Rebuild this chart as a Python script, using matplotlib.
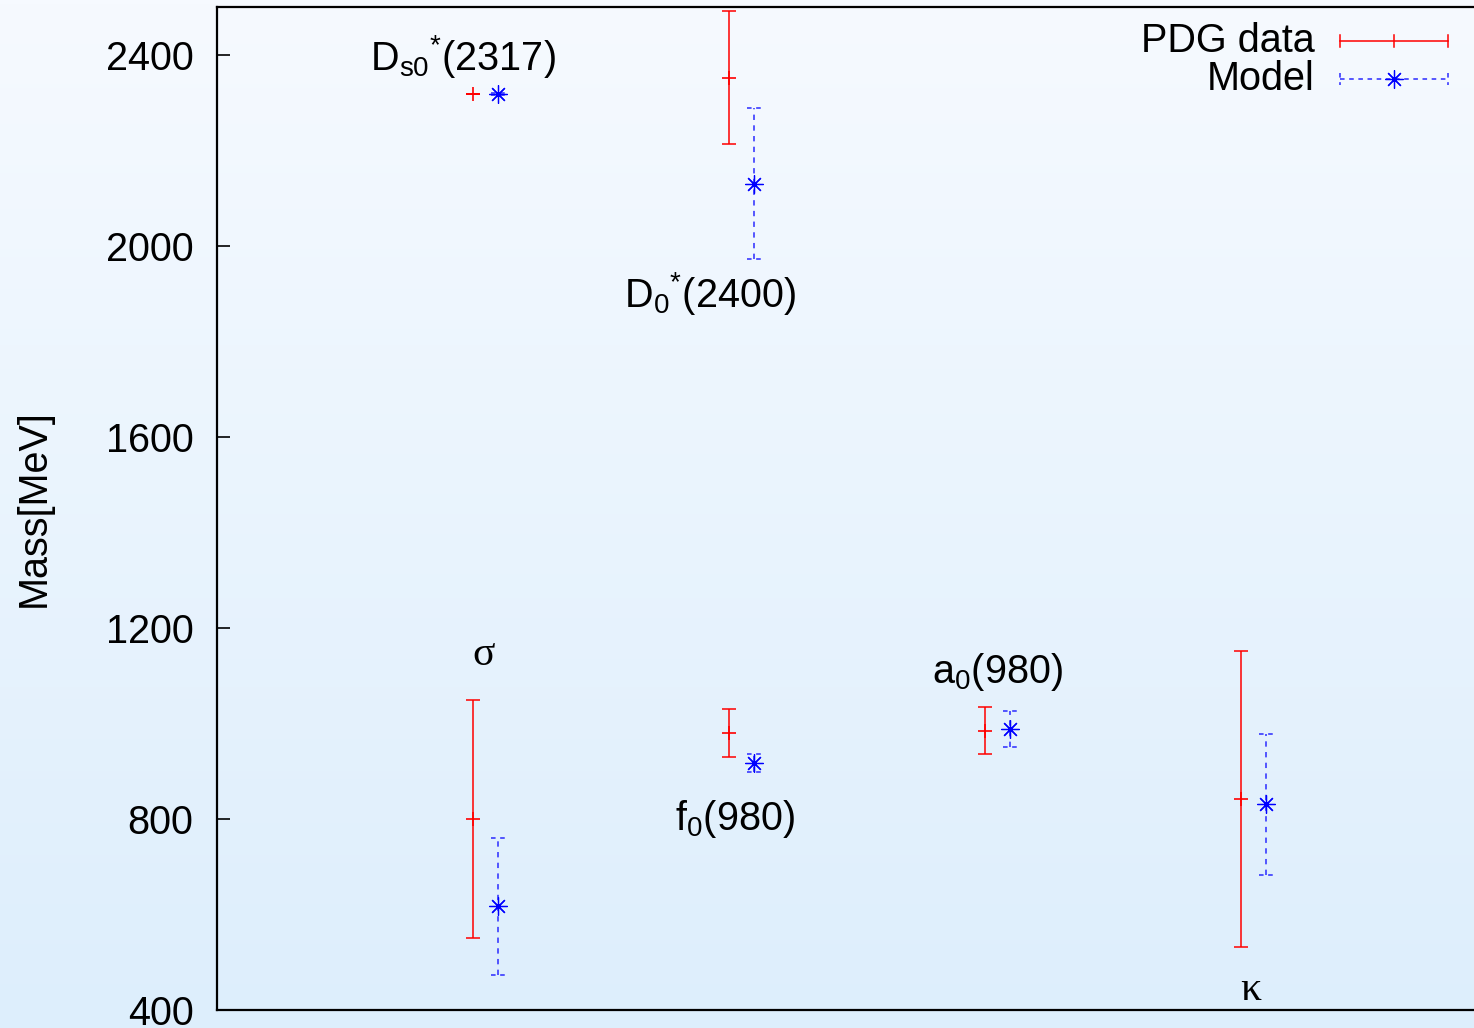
import numpy as np
import matplotlib
matplotlib.use("Agg")
import matplotlib.pyplot as plt
from matplotlib.colors import LinearSegmentedColormap

plt.rcParams['font.family'] = ['Liberation Sans', 'DejaVu Sans']
plt.rcParams['mathtext.fontset'] = 'custom'
plt.rcParams['mathtext.rm'] = 'Liberation Sans'
plt.rcParams['mathtext.it'] = 'Liberation Sans'

# states: group position, PDG value / error, model value / error
pos = [1, 1, 2, 2, 3, 4]
names = ["sigma", "Ds0*(2317)", "f0(980)", "D0*(2400)", "a0(980)", "kappa"]
pdg_mass = [800, 2317.8, 980, 2352, 985, 842]
pdg_err = [250, 0.6, 50, 139, 49, 310]
model_mass = [617, 2317, 917, 2130, 988, 831]
model_lo = [144, 2, 19, 157, 37, 148]
model_hi = [143, 2, 19, 159, 37, 147]

labels = ["σ",
          r"D$_{\mathregular{s0}}$$^{\mathregular{*}}$(2317)",
          r"f$_{\mathregular{0}}$(980)",
          r"D$_{\mathregular{0}}$$^{\mathregular{*}}$(2400)",
          r"a$_{\mathregular{0}}$(980)",
          "κ"]
label_x = [1.043, 0.961, 2.025, 1.926, 3.047, 4.039]
label_y = [1122, 2369, 777, 1872, 1085, 421]

W, H = 1474, 1028
fig = plt.figure(figsize=(W / 100, H / 100), dpi=100)

# gradient background
bg = fig.add_axes([0, 0, 1, 1], zorder=-10)
cmap = LinearSegmentedColormap.from_list("bg", ["#f6faff", "#ddeefc"])
bg.imshow(np.linspace(0, 1, 256).reshape(-1, 1), aspect='auto', cmap=cmap,
          extent=[0, 1, 0, 1], origin='upper')
bg.axis('off')

ax = fig.add_axes([217 / W, 1 - 1010 / H, 1 - 217 / W, (1010 - 7) / H])
ax.set_facecolor('none')
ax.set_xlim(0, (W - 217) / 256)
ax.set_ylim(400, 2500)

off = 0.098
cap = 0.026
red = '#ff0000'
blue = '#2a2aff'

# PDG data
ax.errorbar(pos, pdg_mass, yerr=pdg_err, fmt='none', ecolor=red,
            elinewidth=1.1, capsize=4.7, capthick=1.1, zorder=3)
ax.plot(pos, pdg_mass, linestyle='none', marker='+', ms=10, mew=1.2,
        color=red, zorder=3)

# Model
mx = np.array(pos) + off
mm = np.array(model_mass)
lo = mm - np.array(model_lo)
hi = mm + np.array(model_hi)
ax.vlines(mx, lo, hi, colors=blue, linewidth=1.1, linestyles=(0, (3.5, 3.5)),
          zorder=3)
ax.hlines(np.concatenate([lo, hi]), np.concatenate([mx, mx]) - cap,
          np.concatenate([mx, mx]) + cap, colors=blue, linewidth=1.1,
          linestyles=(0, (3, 3)), zorder=3)
ax.plot(mx, mm, linestyle='none', marker=(8, 2, 0), ms=13, mew=0.9,
        color='#0000ff', zorder=4)

for t, x, y in zip(labels, label_x, label_y):
    if t in ("σ", "κ"):
        ax.text(x, y, t, fontsize=30, ha='center', va='baseline',
                family=['Liberation Serif', 'DejaVu Serif'])
    else:
        ax.text(x, y, t, fontsize=28.5, ha='center', va='baseline')

ax.set_yticks([400, 800, 1200, 1600, 2000, 2400])
ax.set_xticks([])
ax.tick_params(axis='y', direction='in', length=9, width=1.2, labelsize=28.5,
               pad=17)
ax.spines['right'].set_visible(False)
for s in ['left', 'bottom', 'top']:
    ax.spines[s].set_linewidth(1.6)
ax.set_ylabel("Mass[MeV]", fontsize=28.5, labelpad=38)

# legend (gnuplot style)
def fx(px):
    return px / W

def fy(py):
    return 1 - py / H

fig.text(fx(1315), fy(41), "PDG data", fontsize=28.5, ha='right', va='center')
fig.text(fx(1315), fy(79), "Model", fontsize=28.5, ha='right', va='center')
fig.add_artist(plt.Line2D([fx(1340), fx(1448)], [fy(41), fy(41)], color=red,
                          lw=1.1))
for px in (1340, 1394, 1448):
    fig.add_artist(plt.Line2D([fx(px), fx(px)], [fy(35), fy(47)], color=red,
                              lw=1.1))
fig.add_artist(plt.Line2D([fx(1340), fx(1448)], [fy(79), fy(79)], color=blue,
                          lw=1.1, linestyle=(0, (3, 3))))
for px in (1340, 1448):
    fig.add_artist(plt.Line2D([fx(px), fx(px)], [fy(73), fy(85)], color=blue,
                              lw=1.1, linestyle=(0, (3, 3))))
fig.add_artist(plt.Line2D([fx(1394)], [fy(79)], marker=(8, 2, 0), ms=13,
                          mew=0.9, color='#0000ff', linestyle='none'))

fig.savefig("out.png", dpi=100)
